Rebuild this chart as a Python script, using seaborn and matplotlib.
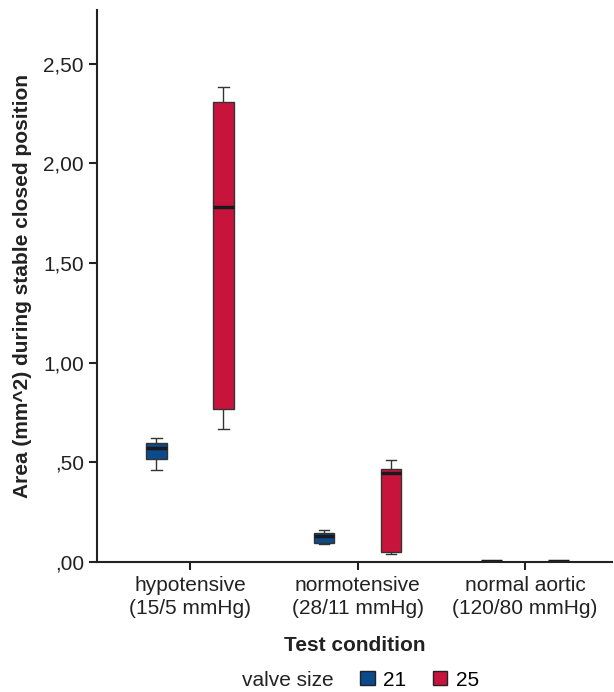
import numpy as np
import pandas as pd
import matplotlib
matplotlib.use("Agg")
import matplotlib.pyplot as plt
import seaborn as sns
from matplotlib.patches import Patch
from matplotlib.ticker import FuncFormatter

# five-number summaries (min, Q1, median, Q3, max)
conditions = ["hypotensive\n(15/5 mmHg)", "normotensive\n(28/11 mmHg)", "normal aortic\n(120/80 mmHg)"]
valve_sizes = ["21", "25"]

hypo_21 = [0.462, 0.518, 0.571, 0.598, 0.621]
hypo_25 = [0.666, 0.766, 1.782, 2.307, 2.385]
normo_21 = [0.090, 0.094, 0.131, 0.147, 0.159]
normo_25 = [0.040, 0.052, 0.448, 0.468, 0.512]
aortic_21 = [0.002, 0.003, 0.004, 0.005, 0.006]
aortic_25 = [0.002, 0.003, 0.004, 0.005, 0.006]

colors = ["#0b4a8b", "#c8143c"]

groups = [
    (conditions[0], "21", hypo_21),
    (conditions[0], "25", hypo_25),
    (conditions[1], "21", normo_21),
    (conditions[1], "25", normo_25),
    (conditions[2], "21", aortic_21),
    (conditions[2], "25", aortic_25),
]
rows = []
for cond, size, vals in groups:
    for v in vals:
        rows.append({"condition": cond, "valve": size, "area": v})
df = pd.DataFrame(rows)

plt.rcParams["font.family"] = ["Liberation Sans", "DejaVu Sans"]

fig = plt.figure(figsize=(6.14, 6.92), dpi=100)
ax = fig.add_axes([0.158, 0.188, 0.839, 0.7975])

sns.boxplot(
    data=df,
    x="condition",
    y="area",
    hue="valve",
    hue_order=valve_sizes,
    order=conditions,
    palette=colors,
    width=0.8,
    gap=0.69,
    whis=(0, 100),
    linewidth=1.0,
    linecolor="#333333",
    medianprops={"color": "#1a1a1a", "linewidth": 2.5},
    saturation=1,
    ax=ax,
)
ax.get_legend().remove()

ax.set_ylim(0, 2.77)
ax.set_xlim(-0.555, 2.52)
ax.set_yticks([0, 0.5, 1.0, 1.5, 2.0, 2.5])


def comma_fmt(v, pos):
    s = ("%.2f" % v).replace(".", ",")
    return s[1:] if s.startswith("0") else s


ax.yaxis.set_major_formatter(FuncFormatter(comma_fmt))

for side in ["top", "right"]:
    ax.spines[side].set_visible(False)
for side in ["left", "bottom"]:
    ax.spines[side].set_linewidth(1.5)
    ax.spines[side].set_color("#222222")

ax.tick_params(axis="both", direction="out", length=6, width=1.5, color="#222222",
               labelsize=15, labelcolor="#222222")
ax.tick_params(axis="x", pad=4)
for lab in ax.get_xticklabels():
    lab.set_linespacing(1.3)

ax.set_xlabel("Test condition", fontsize=15, fontweight="bold", color="#222222", labelpad=13)
ax.set_ylabel("Area (mm^2) during stable closed position", fontsize=15, fontweight="bold",
              color="#222222", labelpad=8)

fig.text(0.394, 0.0173, "valve size", fontsize=15, color="#222222", ha="left", va="center")
handles = [Patch(facecolor=c, edgecolor="#222222", linewidth=1) for c in colors]
fig.legend(handles, valve_sizes, loc="center left", bbox_to_anchor=(0.587, 0.0173),
           ncol=2, frameon=False, fontsize=15, handlelength=0.68, handleheight=0.68,
           handletextpad=0.4, columnspacing=1.3, borderpad=0, borderaxespad=0)

fig.savefig("out.png", dpi=100)
